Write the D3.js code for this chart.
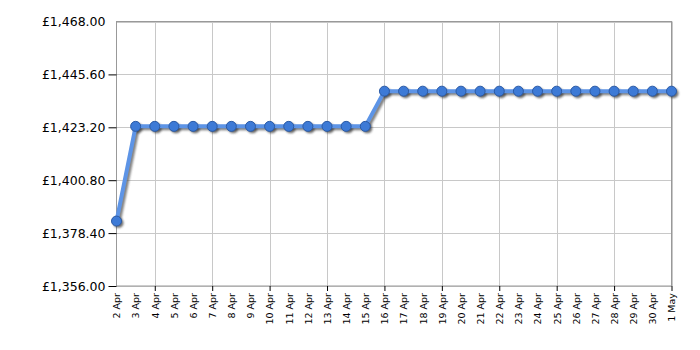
<!DOCTYPE html>
<html>
<head>
<meta charset="utf-8">
<script src="https://cdn.jsdelivr.net/npm/d3@7"></script>
<style>
  body { margin: 0; background: #fff; }
  svg { display: block; font-family: "DejaVu Sans", Verdana, sans-serif; }
</style>
</head>
<body>
<div id="vis"></div>
<script>
const frame_width = 700;
const frame_height = 350;
const margins = {left: 116.5, right: 28.5, top: 21.5, bottom: 64};

// data
const dates = ["2 Apr", "3 Apr", "4 Apr", "5 Apr", "6 Apr", "7 Apr", "8 Apr", "9 Apr", "10 Apr",
  "11 Apr", "12 Apr", "13 Apr", "14 Apr", "15 Apr", "16 Apr", "17 Apr", "18 Apr", "19 Apr",
  "20 Apr", "21 Apr", "22 Apr", "23 Apr", "24 Apr", "25 Apr", "26 Apr", "27 Apr", "28 Apr",
  "29 Apr", "30 Apr", "1 May"];
const prices = [1383.5, 1423.6, 1423.6, 1423.6, 1423.6, 1423.6, 1423.6, 1423.6, 1423.6,
  1423.6, 1423.6, 1423.6, 1423.6, 1423.6, 1438.5, 1438.5, 1438.5, 1438.5,
  1438.5, 1438.5, 1438.5, 1438.5, 1438.5, 1438.5, 1438.5, 1438.5, 1438.5,
  1438.5, 1438.5, 1438.5];
const y_ticks = [1356, 1378.4, 1400.8, 1423.2, 1445.6, 1468];
const x_ticks = ["4 Apr", "7 Apr", "10 Apr", "13 Apr", "16 Apr", "19 Apr", "22 Apr", "25 Apr", "28 Apr", "1 May"];

const data = dates.map((d, i) => ({date: d, price: prices[i]}));

const FRAME = d3.select("#vis")
  .append("svg")
    .attr("width", frame_width)
    .attr("height", frame_height);

const X_SCALE = d3.scalePoint()
  .domain(dates)
  .range([margins.left, frame_width - margins.right]);

const Y_SCALE = d3.scaleLinear()
  .domain([1356, 1468])
  .range([frame_height - margins.bottom, margins.top]);

const fmt = d => "£" + d3.format(",.2f")(d);

// shadow blur
const defs = FRAME.append("defs");
defs.append("filter")
  .attr("id", "shadow")
  .attr("x", "-20%").attr("y", "-20%").attr("width", "140%").attr("height", "140%")
  .append("feGaussianBlur")
    .attr("stdDeviation", 1);

// gridlines
FRAME.append("g")
  .selectAll("line")
  .data(y_ticks)
  .enter()
  .append("line")
    .attr("x1", margins.left)
    .attr("x2", frame_width - margins.right)
    .attr("y1", d => Math.round(Y_SCALE(d)) + 0.5)
    .attr("y2", d => Math.round(Y_SCALE(d)) + 0.5)
    .attr("stroke", "#c8c8c8");

FRAME.append("g")
  .selectAll("line")
  .data(x_ticks)
  .enter()
  .append("line")
    .attr("x1", d => Math.round(X_SCALE(d)) + 0.5)
    .attr("x2", d => Math.round(X_SCALE(d)) + 0.5)
    .attr("y1", margins.top)
    .attr("y2", frame_height - margins.bottom)
    .attr("stroke", "#c8c8c8");

// frame
FRAME.append("rect")
  .attr("x", margins.left)
  .attr("y", margins.top)
  .attr("width", frame_width - margins.left - margins.right)
  .attr("height", frame_height - margins.top - margins.bottom)
  .attr("fill", "none")
  .attr("stroke", "#999");

// y axis
const yAxis = FRAME.append("g")
  .attr("transform", "translate(" + margins.left + ",0)")
  .call(d3.axisLeft(Y_SCALE).tickValues(y_ticks).tickFormat(fmt).tickSize(8).tickSizeOuter(0));
yAxis.select(".domain").remove();
yAxis.selectAll(".tick line")
  .attr("stroke", "#000")
  .filter(d => d === 1468).remove();
yAxis.selectAll(".tick text")
  .attr("font-size", "12.5px")
  .attr("font-family", "DejaVu Sans, Verdana, sans-serif")
  .attr("fill", "#000")
  .attr("x", -11);

// x axis
const xAxis = FRAME.append("g")
  .attr("transform", "translate(0," + (frame_height - margins.bottom) + ")")
  .call(d3.axisBottom(X_SCALE).tickSize(0));
xAxis.select(".domain").remove();
xAxis.selectAll(".tick line").remove();
xAxis.selectAll(".tick").filter(d => x_ticks.includes(d))
  .append("line")
    .attr("y1", 0).attr("y2", 5)
    .attr("stroke", "#000");
xAxis.selectAll(".tick text")
  .attr("font-size", "9.5px")
  .attr("font-family", "DejaVu Sans, Verdana, sans-serif")
  .attr("fill", "#000")
  .attr("transform", "rotate(-90)")
  .attr("text-anchor", "end")
  .attr("x", -7)
  .attr("y", 0)
  .attr("dy", "0.35em");

// line + shadow
const line = d3.line()
  .x(d => X_SCALE(d.date))
  .y(d => Y_SCALE(d.price));

FRAME.append("path")
  .datum(data)
  .attr("d", line)
  .attr("transform", "translate(2,2)")
  .attr("fill", "none")
  .attr("stroke", "#555")
  .attr("stroke-width", 4)
  .attr("opacity", 0.75)
  .attr("filter", "url(#shadow)");

FRAME.selectAll(".dotshadow")
  .data(data)
  .enter()
  .append("circle")
    .attr("class", "dotshadow")
    .attr("cx", d => X_SCALE(d.date) + 2)
    .attr("cy", d => Y_SCALE(d.price) + 2)
    .attr("r", 5)
    .attr("fill", "#333")
    .attr("opacity", 0.7)
    .attr("filter", "url(#shadow)");

FRAME.append("path")
  .datum(data)
  .attr("d", line)
  .attr("fill", "none")
  .attr("stroke", "#5d94e6")
  .attr("stroke-width", 4)
  .attr("stroke-linejoin", "round");

FRAME.selectAll(".dot")
  .data(data)
  .enter()
  .append("circle")
    .attr("class", "dot")
    .attr("cx", d => X_SCALE(d.date))
    .attr("cy", d => Y_SCALE(d.price))
    .attr("r", 5)
    .attr("fill", "#3d7ad6")
    .attr("stroke", "#2b5aa5")
    .attr("stroke-width", 1);
</script>
</body>
</html>
